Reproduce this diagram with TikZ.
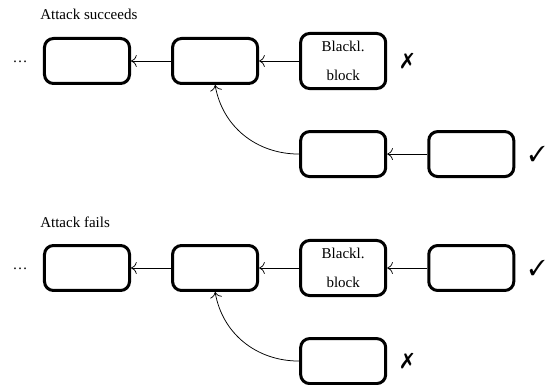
\documentclass[tikz,border=0pt]{standalone}
\usepackage{fontspec}
\setmainfont{Liberation Serif}
\usepackage{pifont}
\usetikzlibrary{positioning,arrows.meta}

\tikzstyle{blk} = [rectangle, rounded corners=6pt, minimum width=56.7pt, minimum height=30pt, text centered, draw=black, line width=2pt]
\tikzstyle{bigblk} = [blk, minimum height=36.7pt, align=center]
\tikzstyle{arrow} = [line width=0.5pt, -{To[scale=1.4]}]
\tikzstyle{verdict} = [inner sep=0pt, font=\Large]
\tikzstyle{title} = [anchor=base west, inner sep=0pt]
\tikzstyle{more} = [inner sep=0pt, anchor=base east]

\begin{document}
\begin{tikzpicture}[x=0.6667pt, y=-0.6667pt, node distance=26.7pt]
\useasboundingbox (0,0) rectangle (550,385);

% attack succeeds
\node (stitle) [title] at (40,20) {Attack succeeds};
\node (s1) [blk] at (87,61) {};
\node (sdots) [left=10pt of s1, more, yshift=-1pt] {\dots};
\node (s2) [blk, right=of s1] {};
\node (s3) [bigblk, right=of s2] {Blackl.\\[7pt]block};
\node (sx) [verdict, right=9pt of s3] {\ding{55}};
\node (s4) [blk, below=of s3] {};
\node (s5) [blk, right=of s4] {};
\node (sok) [verdict, right=9pt of s5] {\ding{51}};

\draw [arrow] (s2) -- (s1);
\draw [arrow] (s3) -- (s2);
\draw [arrow] (s5) -- (s4);
\draw [arrow] (s4.west) to[out=180, in=-80] (s2.south);

% attack fails
\node (ftitle) [title] at (40,228) {Attack fails};
\node (f1) [blk] at (87,268) {};
\node (fdots) [left=10pt of f1, more, yshift=-1pt] {\dots};
\node (f2) [blk, right=of f1] {};
\node (f3) [bigblk, right=of f2] {Blackl.\\[7pt]block};
\node (f4) [blk, right=of f3] {};
\node (fok) [verdict, right=9pt of f4] {\ding{51}};
\node (f5) [blk, below=of f3] {};
\node (fx) [verdict, right=9pt of f5] {\ding{55}};

\draw [arrow] (f2) -- (f1);
\draw [arrow] (f3) -- (f2);
\draw [arrow] (f4) -- (f3);
\draw [arrow] (f5.west) to[out=180, in=-80] (f2.south);

\end{tikzpicture}
\end{document}
